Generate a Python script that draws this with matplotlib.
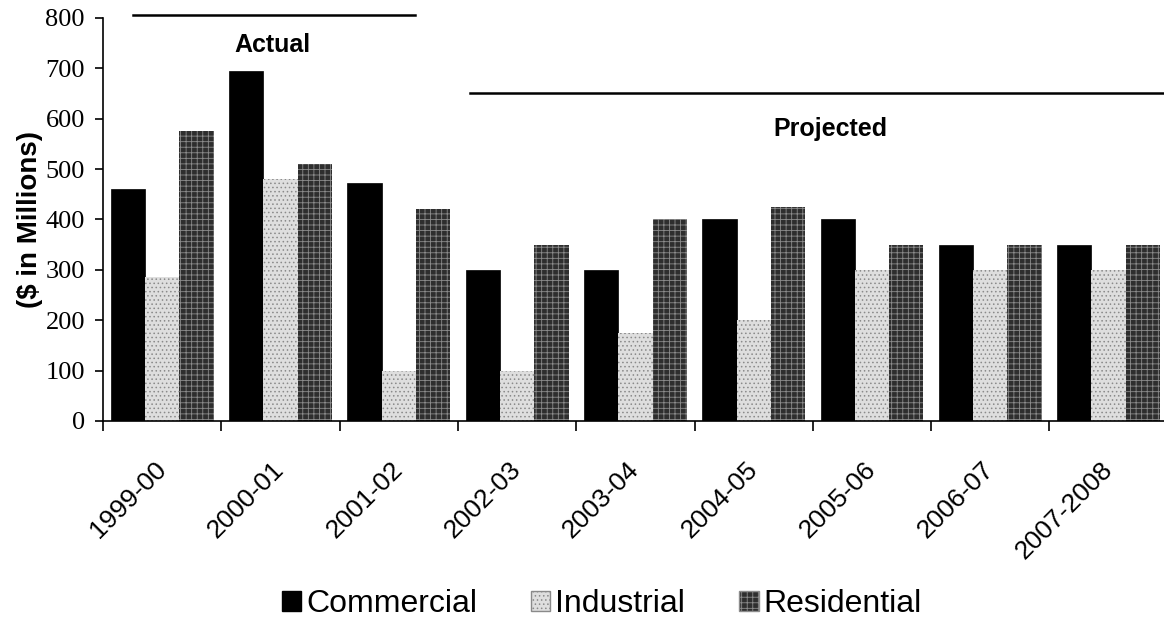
import numpy as np
import matplotlib.pyplot as plt
from matplotlib.patches import Patch

years = ["1999-00", "2000-01", "2001-02", "2002-03", "2003-04",
         "2004-05", "2005-06", "2006-07", "2007-2008"]
commercial = [460, 695, 473, 300, 300, 400, 400, 350, 350]
industrial = [285, 480, 100, 100, 175, 200, 300, 300, 300]
residential = [575, 510, 420, 350, 400, 425, 350, 350, 350]

plt.rcParams['font.family'] = ['Liberation Sans', 'DejaVu Sans']
plt.rcParams['hatch.linewidth'] = 0.6

fig = plt.figure(figsize=(11.64, 6.26), dpi=100)
ax = fig.add_axes([0.0885, 0.3275, 0.9147, 0.6438])

x = np.arange(len(years))
w = 0.29
ax.bar(x - w, commercial, w, color='black', edgecolor='black', linewidth=0.5)
ax.bar(x, industrial, w, color='#dedede', edgecolor='#8a8a8a', hatch='....', linewidth=0)
ax.bar(x + w, residential, w, color='#2e2e2e', edgecolor='#8c8c8c', hatch='+++', linewidth=0)

ax.set_xlim(-0.5, len(years) - 0.5)
ax.set_ylim(0, 800)
ax.set_yticks(range(0, 801, 100))
ax.set_yticklabels([str(v) for v in range(0, 801, 100)], fontfamily='Liberation Serif', fontsize=19)
ax.tick_params(axis='y', length=6, width=1.2, pad=7)

ax.set_xticks(x)
ax.set_xticklabels(years, rotation=45, ha='right', va='center', rotation_mode='anchor', fontsize=19)
ax.tick_params(axis='x', which='major', length=0, pad=32)
ax.set_xticks(np.arange(len(years) + 1) - 0.5, minor=True)
ax.tick_params(axis='x', which='minor', length=7, width=1.2)

for s in ['top', 'right']:
    ax.spines[s].set_visible(False)
ax.spines['left'].set_linewidth(1.2)
ax.spines['bottom'].set_linewidth(1.2)

ax.set_ylabel("($ in Millions)", fontsize=20, fontweight='bold', labelpad=2)

# period brackets
ax.plot([-0.25, 2.14], [806, 806], color='black', lw=1.8, clip_on=False)
ax.text(0.93, 746, "Actual", ha='center', va='center', fontsize=18, fontweight='bold')
ax.plot([2.6, 8.5], [651, 651], color='black', lw=1.8, clip_on=False)
ax.text(5.65, 580, "Projected", ha='center', va='center', fontsize=18, fontweight='bold')

handles = [Patch(facecolor='black', edgecolor='black'),
           Patch(facecolor='#dedede', edgecolor='#8a8a8a', hatch='....'),
           Patch(facecolor='#2e2e2e', edgecolor='#8c8c8c', hatch='+++')]
fig.legend(handles, ["Commercial", "Industrial", "Residential"], loc='lower center',
           bbox_to_anchor=(0.517, -0.035), ncol=3, frameon=False, fontsize=23,
           handlelength=0.6, handleheight=0.6, handletextpad=0.15, columnspacing=1.7)

fig.savefig("out.png", dpi=100)
